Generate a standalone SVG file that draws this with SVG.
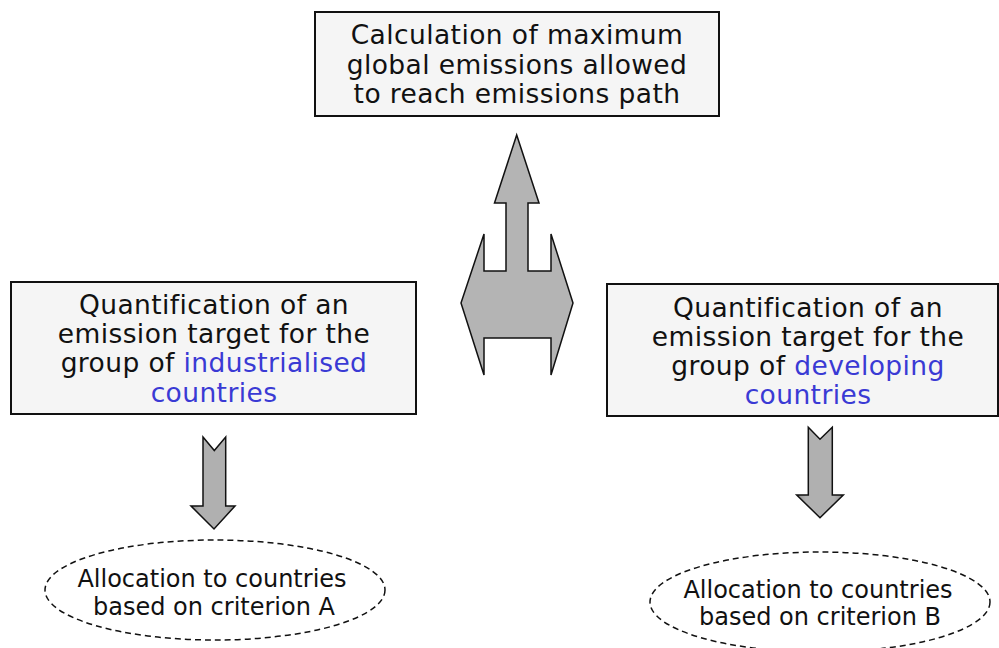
<svg xmlns="http://www.w3.org/2000/svg" width="999" height="648" viewBox="0 0 999 648">
<defs>
<linearGradient id="shaft" x1="0" y1="0" x2="1" y2="0">
<stop offset="0" stop-color="#8c8c8c"/>
<stop offset="0.2" stop-color="#b0b0b0"/>
<stop offset="0.8" stop-color="#b0b0b0"/>
<stop offset="1" stop-color="#8c8c8c"/>
</linearGradient>
</defs>
<style>
.box{fill:#f5f5f5;stroke:#111;stroke-width:2}
.t{font-family:"DejaVu Sans","Liberation Sans",sans-serif;font-size:26.5px;letter-spacing:0.4px;fill:#111;text-anchor:middle}
.e{font-family:"DejaVu Sans","Liberation Sans",sans-serif;font-size:24px;fill:#111;text-anchor:middle}
.blue{fill:#3a3ad4}
.ell{fill:none;stroke:#111;stroke-width:1.5;stroke-dasharray:6 4}
.big{fill:#b4b4b4;stroke:#111;stroke-width:1.5;stroke-linejoin:miter}
.down{fill:url(#shaft);stroke:#111;stroke-width:1.5}
</style>
<rect width="999" height="648" fill="#fff"/>
<g id="top">
<rect class="box" x="315" y="12" width="404" height="104"/>
<text class="t" x="517" y="44">Calculation of maximum</text>
<text class="t" x="517" y="73.5">global emissions allowed</text>
<text class="t" x="517" y="103">to reach emissions path</text>
</g>
<g id="industrialised">
<rect class="box" x="11" y="282" width="405" height="132"/>
<text class="t" x="214" y="314">Quantification of an</text>
<text class="t" x="214" y="343">emission target for the</text>
<text class="t" x="214" y="372">group of <tspan class="blue">industrialised</tspan></text>
<text class="t blue" x="214" y="402">countries</text>
</g>
<g id="developing">
<rect class="box" x="607" y="284" width="391" height="132"/>
<text class="t" x="808" y="317">Quantification of an</text>
<text class="t" x="808" y="346">emission target for the</text>
<text class="t" x="808" y="375">group of <tspan class="blue">developing</tspan></text>
<text class="t blue" x="808" y="404">countries</text>
</g>
<g id="criterionA">
<ellipse class="ell" cx="215" cy="590" rx="170" ry="50"/>
<text class="e" x="212" y="587">Allocation to countries</text>
<text class="e" x="214" y="615">based on criterion A</text>
</g>
<g id="criterionB">
<ellipse class="ell" cx="820" cy="602" rx="170" ry="50"/>
<text class="e" x="818" y="598">Allocation to countries</text>
<text class="e" x="820" y="625">based on criterion B</text>
</g>
<g id="connectors">
<path class="big" d="M516.7,135 L539,203 L528,203 L528,271 L551,271 L551,234 L573,303 L551,375 L551,338 L484,338 L484,375 L461,303 L484,234 L484,271 L506,271 L506,203 L494.5,203 Z"/>
<path class="down" d="M203,437 L214.3,450.5 L225.7,437 L225.7,506 L235,506 L214,529 L191,506 L203,506 Z"/>
<path class="down" d="M808.3,427.3 L820,439.3 L832.3,427.3 L832.3,495 L843.3,495 L820,517.7 L796.7,495 L808.3,495 Z"/>
</g>
</svg>
